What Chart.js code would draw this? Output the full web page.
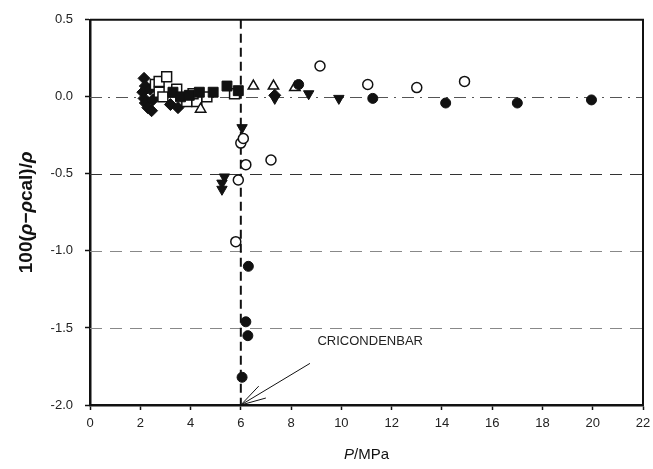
<!DOCTYPE html>
<html>
<head>
<meta charset="utf-8">
<script src="https://cdn.jsdelivr.net/npm/chart.js@4.4.1/dist/chart.umd.min.js"></script>
<style>
  html, body { margin: 0; padding: 0; background: #fff; }
</style>
</head>
<body>
<canvas id="myChart" width="653" height="469"></canvas>
<script>
// pressure (MPa) and deviation 100(rho-rho_cal)/rho, one pair of arrays per marker type
var diamondP   = [2.15, 2.2, 2.1, 2.15, 2.2, 2.3, 2.45, 2.4, 2.5, 3.2, 3.5, 7.35];
var diamondDev = [0.12, 0.07, 0.03, -0.01, -0.04, -0.07, -0.09, 0.05, -0.02, -0.05, -0.07, 0.01];

var openSqP   = [2.6, 2.75, 3.05, 2.75, 2.9, 3.45, 3.85, 4.25, 4.65, 4.1, 5.75];
var openSqDev = [0.08, 0.1, 0.13, 0.03, 0.0, 0.05, -0.03, -0.03, 0.0, 0.02, 0.02];

var fillSqP   = [3.3, 3.6, 3.95, 4.35, 4.9, 5.45, 5.9];
var fillSqDev = [0.03, 0.0, 0.01, 0.03, 0.03, 0.07, 0.04];

var openTriP   = [4.4, 6.5, 7.3, 8.15];
var openTriDev = [-0.08, 0.07, 0.07, 0.06];

var downTriP   = [6.05, 5.35, 5.25, 5.25, 7.35, 8.7, 9.9];
var downTriDev = [-0.2, -0.52, -0.56, -0.6, -0.01, 0.02, -0.01];

var openCircP   = [9.15, 11.05, 13.0, 14.9, 6.0, 6.1, 6.2, 7.2, 5.9, 5.8];
var openCircDev = [0.2, 0.08, 0.06, 0.1, -0.3, -0.27, -0.44, -0.41, -0.54, -0.94];

var fillCircP   = [8.3, 11.25, 14.15, 17.0, 19.95, 6.3, 6.2, 6.28, 6.05];
var fillCircDev = [0.08, -0.01, -0.04, -0.04, -0.02, -1.1, -1.46, -1.55, -1.82];

var xTicks = [0, 2, 4, 6, 8, 10, 12, 14, 16, 18, 20, 22];
var yTicks = [0.5, 0.0, -0.5, -1.0, -1.5, -2.0];

var cricondenbar = 6;
var labelText = "CRICONDENBAR";

function pts(xs, ys) {
  var out = [];
  for (var i = 0; i < xs.length; i++) out.push({x: xs[i], y: ys[i]});
  return out;
}

var ink = "#111";
var fontFam = "'Liberation Sans', Arial, sans-serif";

function marker(data, style, r, open, rot) {
  return {
    data: data,
    pointStyle: style,
    pointRadius: r,
    pointHoverRadius: r,
    pointRotation: rot || 0,
    backgroundColor: open ? "#fff" : ink,
    borderColor: ink,
    borderWidth: open ? 1.5 : 1,
    showLine: false
  };
}

// dashed reference lines, the cricondenbar, frame, titles and the arrow note
var extras = {
  id: "extras",
  beforeDatasetsDraw: function(chart) {
    var c = chart.ctx, a = chart.chartArea;
    var xs = chart.scales.x, ys = chart.scales.y;
    var hl = [
      {v: 0, dash: [12, 6, 2, 6], color: "#555", w: 1},
      {v: -0.5, dash: [12, 8], color: "#333", w: 1.2},
      {v: -1.0, dash: [12, 8], color: "#888", w: 1},
      {v: -1.5, dash: [12, 8], color: "#888", w: 1}
    ];
    c.save();
    hl.forEach(function(h) {
      var y = Math.round(ys.getPixelForValue(h.v)) + 0.5;
      c.beginPath();
      c.setLineDash(h.dash);
      c.strokeStyle = h.color;
      c.lineWidth = h.w;
      c.moveTo(a.left, y);
      c.lineTo(a.right, y);
      c.stroke();
    });
    var vx = xs.getPixelForValue(cricondenbar);
    c.beginPath();
    c.setLineDash([9, 5]);
    c.strokeStyle = ink;
    c.lineWidth = 2;
    c.moveTo(vx, a.top);
    c.lineTo(vx, a.bottom);
    c.stroke();
    c.restore();
  },
  afterDraw: function(chart) {
    var c = chart.ctx, a = chart.chartArea;
    var xs = chart.scales.x, ys = chart.scales.y;
    c.save();
    // top and right frame
    c.strokeStyle = ink;
    c.lineWidth = 2;
    c.beginPath();
    c.moveTo(a.left, a.top);
    c.lineTo(a.right, a.top);
    c.lineTo(a.right, a.bottom);
    c.stroke();

    // note with arrow
    c.fillStyle = "#222";
    c.font = "13px " + fontFam;
    c.textBaseline = "middle";
    c.fillText(labelText, xs.getPixelForValue(9.05), ys.getPixelForValue(-1.59));
    var tx = xs.getPixelForValue(cricondenbar), ty = ys.getPixelForValue(-2.0);
    var sx = xs.getPixelForValue(8.75), sy = ys.getPixelForValue(-1.73);
    var ang = Math.atan2(sy - ty, sx - tx);
    c.lineWidth = 1;
    c.beginPath();
    c.moveTo(sx, sy);
    c.lineTo(tx, ty);
    [-0.27, 0.27].forEach(function(d) {
      c.moveTo(tx, ty);
      c.lineTo(tx + 26 * Math.cos(ang + d), ty + 26 * Math.sin(ang + d));
    });
    c.stroke();

    // axis titles with italic symbols
    function rich(parts, size) {
      var w = 0;
      parts.forEach(function(p) { c.font = p[1] + size + "px " + fontFam; w += c.measureText(p[0]).width; });
      var x = -w / 2;
      parts.forEach(function(p) {
        c.font = p[1] + size + "px " + fontFam;
        c.fillText(p[0], x, 0);
        x += c.measureText(p[0]).width;
      });
    }
    c.fillStyle = ink;
    c.textBaseline = "middle";
    c.save();
    c.translate(27, (a.top + a.bottom) / 2);
    c.rotate(-Math.PI / 2);
    rich([["100(", "bold "], ["\u03c1\u2212\u03c1", "italic bold "], ["cal", "bold "], [")/", "bold "], ["\u03c1", "italic bold "]], 19);
    c.restore();
    c.save();
    c.translate((a.left + a.right) / 2, 455);
    rich([["P", "italic "], ["/MPa", ""]], 15);
    c.restore();
    c.restore();
  }
};

new Chart("myChart", {
  type: "scatter",
  data: {
    datasets: [
      marker(pts(fillCircP, fillCircDev), "circle", 5, false),
      marker(pts(downTriP, downTriDev), "triangle", 6, false, 180),
      marker(pts(fillSqP, fillSqDev), "rect", 7, false),
      marker(pts(openTriP, openTriDev), "triangle", 6, true),
      marker(pts(openSqP, openSqDev), "rect", 7, true),
      marker(pts(diamondP, diamondDev), "rectRot", 6, false),
      marker(pts(openCircP, openCircDev), "circle", 5, true)
    ]
  },
  options: {
    responsive: false,
    animation: false,
    layout: {padding: {left: 0, top: 19, right: 10, bottom: 0}},
    plugins: {legend: {display: false}, tooltip: {enabled: false}},
    scales: {
      x: {
        type: "linear",
        min: 0, max: 22,
        afterBuildTicks: function(s) { s.ticks = xTicks.map(function(v) { return {value: v}; }); },
        afterFit: function(s) { s.height = 64; s.paddingRight = 0; s.paddingLeft = 0; },
        grid: {drawOnChartArea: false, drawTicks: true, tickLength: 5, tickColor: ink, tickWidth: 1.5},
        border: {display: true, color: ink, width: 2.5},
        ticks: {color: "#222", font: {family: fontFam, size: 13}, padding: 6, maxRotation: 0,
                callback: function(v) { return v; }}
      },
      y: {
        type: "linear",
        min: -2.0, max: 0.5,
        afterBuildTicks: function(s) { s.ticks = yTicks.map(function(v) { return {value: v}; }); },
        afterFit: function(s) { s.width = 90; },
        grid: {drawOnChartArea: false, drawTicks: true, tickLength: 5, tickColor: ink, tickWidth: 1.5},
        border: {display: true, color: ink, width: 2.5},
        ticks: {color: "#222", font: {family: fontFam, size: 13}, padding: 12,
                callback: function(v) { return v.toFixed(1); }}
      }
    }
  },
  plugins: [extras]
});
</script>
</body>
</html>
